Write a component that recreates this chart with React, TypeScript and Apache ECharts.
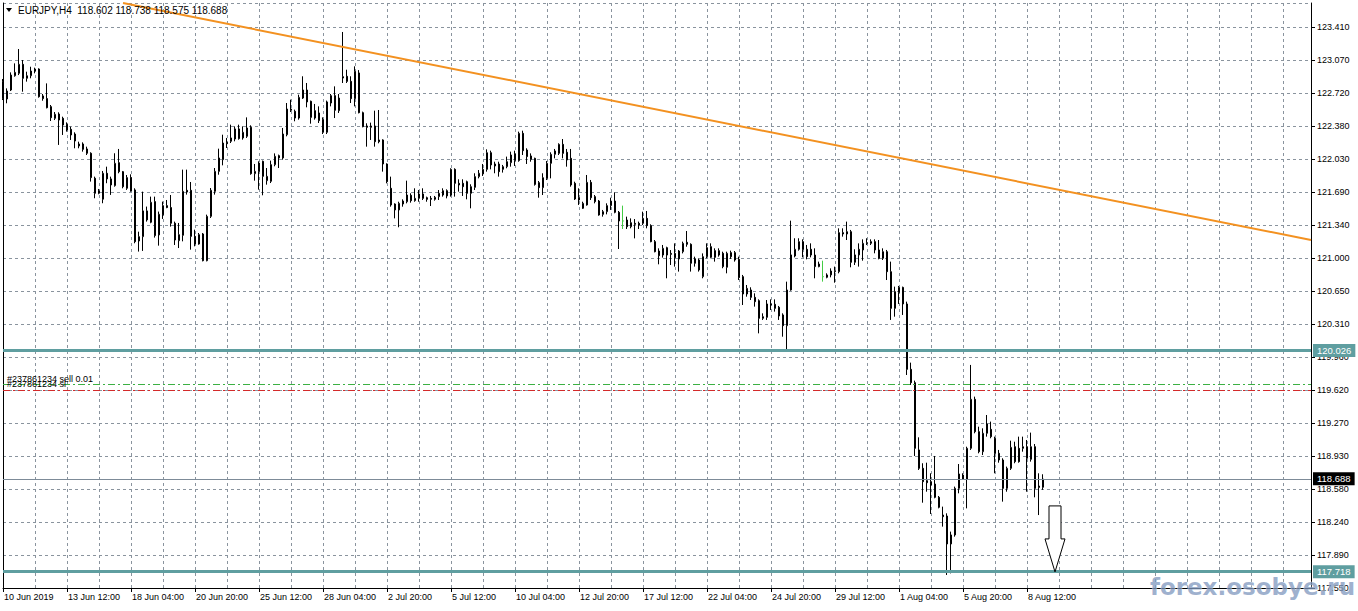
import React, { useEffect, useRef } from "react";
import * as echarts from "echarts";

const SYMBOL = "EURJPY,H4";
const HEADER_OHLC = [118.602, 118.738, 118.575, 118.688];
const ORDER_ID = "#237861234";

const TICK_LABELS = [
  "10 Jun 2019", "13 Jun 12:00", "18 Jun 04:00", "20 Jun 20:00", "25 Jun 12:00",
  "28 Jun 04:00", "2 Jul 20:00", "5 Jul 12:00", "10 Jul 04:00", "12 Jul 20:00",
  "17 Jul 12:00", "22 Jul 04:00", "24 Jul 20:00", "29 Jul 12:00", "1 Aug 04:00",
  "5 Aug 20:00", "8 Aug 12:00",
];
const BARS_PER_LABEL = 16;
const BARS_PER_GRID = 8;
const TOTAL_SLOTS = 328;

// [open, high, low, close]
const CANDLES: number[][] = [
  [122.839, 122.867, 122.647, 122.665], [122.658, 122.769, 122.613, 122.741], [122.752, 122.936, 122.741, 122.908], [122.901, 123.030, 122.891, 122.936],
  [122.926, 123.180, 122.908, 123.020], [123.020, 123.065, 122.734, 122.874], [122.874, 122.943, 122.839, 122.901], [122.901, 122.995, 122.874, 122.950],
  [122.950, 122.985, 122.926, 122.971], [122.971, 122.978, 122.672, 122.682], [122.690, 122.710, 122.640, 122.662], [122.662, 122.821, 122.560, 122.567],
  [122.578, 122.595, 122.428, 122.463], [122.456, 122.522, 122.438, 122.498], [122.501, 122.519, 122.178, 122.438], [122.456, 122.473, 122.282, 122.386],
  [122.393, 122.414, 122.317, 122.334], [122.341, 122.369, 122.230, 122.282], [122.292, 122.310, 122.143, 122.219], [122.167, 122.212, 122.143, 122.188],
  [122.188, 122.205, 122.108, 122.132], [122.136, 122.160, 122.073, 122.091], [122.091, 122.101, 121.795, 121.837], [121.830, 121.847, 121.621, 121.673],
  [121.673, 121.718, 121.663, 121.698], [121.611, 121.906, 121.569, 121.882], [121.882, 121.951, 121.778, 121.823], [121.823, 121.847, 121.656, 121.760],
  [121.753, 122.091, 121.742, 121.986], [121.993, 122.136, 121.882, 121.899], [121.899, 121.906, 121.725, 121.742], [121.725, 121.864, 121.708, 121.837],
  [121.837, 121.871, 121.690, 121.697], [121.708, 121.725, 121.151, 121.168], [121.175, 121.272, 121.064, 121.220], [121.220, 121.690, 121.071, 121.489],
  [121.489, 121.534, 121.377, 121.395], [121.370, 121.638, 121.360, 121.579], [121.586, 121.638, 121.210, 121.231], [121.238, 121.482, 121.126, 121.454],
  [121.447, 121.586, 121.405, 121.544], [121.544, 121.603, 121.517, 121.524], [121.524, 121.655, 121.325, 121.360], [121.360, 121.377, 121.133, 121.185],
  [121.178, 121.363, 121.101, 121.241], [121.234, 121.920, 121.171, 121.693], [121.704, 121.920, 121.659, 121.686], [121.704, 121.791, 121.084, 121.223],
  [121.223, 121.293, 121.119, 121.143], [121.143, 121.258, 121.136, 121.241], [121.248, 121.258, 120.962, 120.969], [120.969, 121.450, 120.962, 121.432],
  [121.432, 121.728, 121.415, 121.704], [121.693, 121.937, 121.659, 121.902], [121.902, 122.139, 121.867, 122.042], [122.024, 122.285, 121.965, 122.198],
  [122.205, 122.251, 122.146, 122.191], [122.216, 122.390, 122.198, 122.251], [122.240, 122.372, 122.216, 122.345], [122.345, 122.390, 122.233, 122.244],
  [122.251, 122.372, 122.233, 122.310], [122.268, 122.466, 122.251, 122.355], [122.362, 122.383, 121.867, 121.878], [121.878, 121.979, 121.805, 121.902],
  [121.989, 122.007, 121.711, 121.902], [122.007, 122.014, 121.652, 121.850], [121.805, 121.937, 121.763, 121.850], [121.798, 122.014, 121.780, 121.972],
  [121.972, 122.090, 121.955, 122.059], [122.066, 122.077, 121.937, 122.042], [122.042, 122.355, 122.024, 122.292], [122.285, 122.616, 122.268, 122.553],
  [122.553, 122.651, 122.522, 122.540], [122.529, 122.547, 122.425, 122.459], [122.459, 122.703, 122.442, 122.675], [122.668, 122.895, 122.658, 122.752],
  [122.752, 122.825, 122.571, 122.627], [122.634, 122.641, 122.400, 122.466], [122.536, 122.606, 122.442, 122.459], [122.512, 122.581, 122.407, 122.432],
  [122.442, 122.466, 122.292, 122.310], [122.310, 122.641, 122.292, 122.627], [122.616, 122.710, 122.581, 122.693], [122.693, 122.790, 122.459, 122.540],
  [122.536, 122.710, 122.512, 122.668], [122.891, 123.358, 122.825, 122.877], [122.895, 122.964, 122.825, 122.842], [122.842, 122.895, 122.616, 122.661],
  [122.661, 122.999, 122.581, 122.947], [122.930, 122.960, 122.508, 122.515], [122.515, 122.526, 122.362, 122.369], [122.376, 122.404, 122.160, 122.362],
  [122.362, 122.411, 122.230, 122.376], [122.376, 122.536, 122.160, 122.212], [122.230, 122.543, 122.195, 122.212], [122.230, 122.237, 121.899, 121.979],
  [121.979, 121.986, 121.777, 121.794], [121.725, 121.847, 121.533, 121.551], [121.561, 121.568, 121.411, 121.499], [121.499, 121.585, 121.318, 121.568],
  [121.561, 121.610, 121.533, 121.592], [121.585, 121.805, 121.568, 121.655], [121.652, 121.673, 121.575, 121.596], [121.596, 121.725, 121.585, 121.620],
  [121.620, 121.707, 121.585, 121.666], [121.666, 121.725, 121.603, 121.620], [121.627, 121.638, 121.585, 121.610], [121.620, 121.645, 121.540, 121.610],
  [121.610, 121.645, 121.596, 121.631], [121.638, 121.707, 121.603, 121.673], [121.655, 121.725, 121.638, 121.700], [121.700, 121.714, 121.620, 121.645],
  [121.655, 121.934, 121.638, 121.923], [121.923, 121.934, 121.638, 121.777], [121.777, 121.819, 121.690, 121.760], [121.777, 121.819, 121.645, 121.742],
  [121.794, 121.805, 121.610, 121.673], [121.673, 121.767, 121.516, 121.742], [121.735, 121.882, 121.707, 121.847], [121.847, 121.916, 121.829, 121.882],
  [121.875, 121.979, 121.854, 121.923], [121.923, 122.132, 121.899, 122.097], [122.097, 122.118, 121.923, 121.969], [121.979, 122.003, 121.882, 121.958],
  [121.979, 122.003, 121.847, 121.899], [121.923, 121.969, 121.889, 121.951], [121.951, 122.056, 121.934, 122.003], [121.993, 122.108, 121.951, 122.073],
  [122.014, 122.118, 121.958, 122.084], [122.014, 122.317, 122.003, 122.299], [122.299, 122.327, 122.073, 122.118], [122.125, 122.143, 121.979, 122.056],
  [122.063, 122.090, 122.003, 122.028], [122.038, 122.045, 121.753, 121.766], [121.784, 121.801, 121.627, 121.732], [121.732, 121.882, 121.655, 121.836],
  [121.829, 122.010, 121.812, 121.986], [121.986, 122.101, 121.829, 122.080], [122.080, 122.136, 122.038, 122.115], [122.090, 122.195, 122.073, 122.184],
  [122.184, 122.240, 122.038, 122.090], [122.101, 122.136, 121.951, 122.021], [122.038, 122.136, 121.742, 121.760], [121.777, 121.794, 121.603, 121.613],
  [121.627, 121.725, 121.551, 121.603], [121.516, 121.585, 121.509, 121.568], [121.551, 121.864, 121.544, 121.787], [121.787, 121.812, 121.603, 121.627],
  [121.638, 121.655, 121.568, 121.586], [121.592, 121.603, 121.439, 121.446], [121.453, 121.499, 121.429, 121.481], [121.481, 121.568, 121.453, 121.544],
  [121.544, 121.627, 121.499, 121.592], [121.592, 121.683, 121.464, 121.474], [121.474, 121.488, 121.091, 121.384], [121.384, 121.544, 121.300, 121.384],
  [121.394, 121.429, 121.300, 121.324], [121.324, 121.411, 121.307, 121.366], [121.359, 121.404, 121.202, 121.349], [121.359, 121.377, 121.300, 121.342],
  [121.359, 121.481, 121.342, 121.411], [121.411, 121.488, 121.307, 121.335], [121.335, 121.349, 121.161, 121.168], [121.168, 121.185, 121.056, 121.063],
  [121.070, 121.098, 120.931, 121.021], [121.028, 121.133, 121.001, 121.098], [121.105, 121.115, 120.785, 121.028], [121.045, 121.080, 120.924, 121.035],
  [121.045, 121.150, 120.907, 121.001], [120.987, 121.080, 120.855, 121.070], [121.063, 121.168, 121.045, 121.150], [121.161, 121.279, 121.115, 121.140],
  [121.140, 121.150, 120.855, 120.942], [120.987, 121.011, 120.907, 120.942], [120.976, 120.993, 120.855, 120.872], [120.802, 121.045, 120.785, 121.011],
  [121.011, 121.150, 120.994, 121.105], [121.004, 121.150, 120.994, 121.116], [121.074, 121.098, 120.959, 121.004], [121.028, 121.098, 121.011, 121.074],
  [121.046, 121.063, 120.890, 120.907], [120.900, 121.063, 120.837, 121.046], [121.053, 121.074, 120.987, 121.011], [121.053, 121.070, 120.959, 120.976],
  [120.983, 121.011, 120.767, 120.792], [120.802, 120.820, 120.506, 120.621], [120.621, 120.715, 120.593, 120.680], [120.663, 120.691, 120.558, 120.586],
  [120.586, 120.628, 120.489, 120.541], [120.551, 120.565, 120.210, 120.367], [120.367, 120.419, 120.350, 120.384], [120.377, 120.558, 120.350, 120.517],
  [120.517, 120.565, 120.454, 120.506], [120.513, 120.565, 120.437, 120.471], [120.482, 120.496, 120.350, 120.391], [120.402, 120.419, 120.175, 120.290],
  [120.290, 120.750, 120.043, 120.663], [120.663, 121.387, 120.656, 121.029], [121.018, 121.203, 121.004, 121.088], [121.088, 121.203, 121.074, 121.168],
  [121.168, 121.192, 121.004, 121.088], [121.088, 121.133, 120.983, 121.011], [121.088, 121.150, 121.004, 121.028], [121.028, 121.098, 120.785, 120.907],
  [120.907, 120.959, 120.900, 120.934], [120.802, 120.969, 120.750, 120.802], [120.795, 120.837, 120.785, 120.820], [120.820, 120.889, 120.795, 120.861],
  [120.854, 120.907, 120.739, 120.865], [120.854, 121.307, 120.837, 121.262], [121.262, 121.307, 121.220, 121.248], [121.248, 121.377, 121.185, 121.272],
  [121.272, 121.290, 120.900, 120.952], [120.952, 121.088, 120.924, 121.029], [121.029, 121.150, 120.907, 121.088], [121.081, 121.192, 120.969, 121.150],
  [121.157, 121.203, 121.133, 121.150], [121.150, 121.192, 121.133, 121.168], [121.168, 121.192, 121.046, 121.081], [121.081, 121.185, 120.983, 120.994],
  [120.994, 121.098, 120.976, 121.063], [121.063, 121.081, 120.767, 120.854], [120.854, 120.959, 120.350, 120.471], [120.471, 120.698, 120.384, 120.646],
  [120.635, 120.705, 120.517, 120.690], [120.690, 120.698, 120.402, 120.517], [120.517, 120.541, 119.775, 119.834], [119.834, 119.904, 119.671, 119.695],
  [119.695, 119.716, 118.929, 119.009], [118.992, 119.124, 118.783, 118.800], [118.800, 118.853, 118.441, 118.661], [118.671, 118.859, 118.556, 118.650],
  [118.661, 118.748, 118.323, 118.626], [118.636, 118.929, 118.487, 118.497], [118.497, 118.511, 118.382, 118.393], [118.312, 118.400, 118.191, 118.295],
  [118.302, 118.330, 117.686, 118.010], [118.010, 118.139, 117.703, 118.104], [118.104, 118.609, 118.086, 118.591], [118.591, 118.845, 118.539, 118.741],
  [118.730, 118.748, 118.678, 118.685], [118.685, 119.026, 118.382, 119.009], [119.009, 119.880, 118.992, 119.521], [119.521, 119.549, 119.166, 119.183],
  [119.183, 119.235, 118.957, 118.974], [118.974, 119.218, 118.939, 119.166], [119.166, 119.357, 119.131, 119.263], [119.207, 119.288, 119.114, 119.131],
  [119.113, 119.131, 118.748, 118.957], [118.957, 118.992, 118.859, 118.887], [118.887, 118.905, 118.452, 118.591], [118.591, 118.818, 118.556, 118.800],
  [118.800, 119.089, 118.783, 119.019], [119.026, 119.078, 118.853, 118.870], [119.009, 119.131, 118.859, 118.870], [119.009, 119.131, 118.974, 119.026],
  [119.026, 119.096, 118.556, 118.905], [118.894, 119.173, 118.870, 119.026], [119.026, 119.054, 118.497, 118.591], [118.615, 118.748, 118.312, 118.601],
  [118.602, 118.738, 118.575, 118.688],
];

// price axis
const AXIS_BASE = 117.55;
const AXIS_STEP = 0.3447;
const AXIS_TOP = 123.6606;

// levels
const RESISTANCE = 120.026;
const TAKE_PROFIT = 117.718;
const BID = 118.688;
const ORDER_OPEN = 119.678;
const STOP_LOSS = 119.62;
const TREND_START = [30, 123.66];
const TREND_END = [327, 121.185];
const ARROW_BAR = 263;

const FONT = "'Liberation Sans', Arial, sans-serif";
const GRID_COLOR = "#8a949e";
const TEAL = "#5f9ea0";
const DOJI = "#44cc44";

export default function App() {
  const ref = useRef<HTMLDivElement>(null);

  useEffect(() => {
    document.body.style.margin = "0";
    const chart = echarts.init(ref.current!, null, { renderer: "svg" });
    const B = AXIS_BASE;

    const seriesData = CANDLES.map(([o, h, l, c]) => {
      const v = [o - B, c - B, l - B, h - B];
      if (o === c) {
        return {
          value: v,
          itemStyle: { color: DOJI, color0: DOJI, borderColor: DOJI, borderColor0: DOJI, borderColorDoji: DOJI },
        };
      }
      return v;
    });

    const smallLabel = { fontSize: 9, fontFamily: FONT, color: "#000" };
    const tagLabel = (text: string, bg: string) => ({
      show: true,
      position: "end",
      formatter: text,
      backgroundColor: bg,
      color: "#fff",
      fontSize: 9.5,
      fontFamily: FONT,
      padding: [2, 4, 1, 4],
      distance: 2,
    });

    const option: any = {
      animation: false,
      grid: { left: 3, top: 3, width: 1308, height: 585, containLabel: false, outerBoundsMode: "none" },
      xAxis: [
        {
          type: "category",
          data: Array.from({ length: TOTAL_SLOTS }, (_, i) => String(i)),
          boundaryGap: false,
          axisLine: { show: true, lineStyle: { color: "#000", width: 1 } },
          axisTick: {
            show: true,
            interval: (i: number) => i % BARS_PER_LABEL === 0 && i / BARS_PER_LABEL < TICK_LABELS.length,
            length: 4,
            lineStyle: { color: "#000" },
          },
          axisLabel: {
            interval: (i: number) => i % BARS_PER_LABEL === 0 && i / BARS_PER_LABEL < TICK_LABELS.length,
            formatter: (_v: string, i: number) => TICK_LABELS[i / BARS_PER_LABEL] ?? "",
            align: "left",
            margin: 4,
            fontSize: 9,
            fontFamily: FONT,
            color: "#000",
            padding: [0, 0, 0, 1],
          },
          splitLine: {
            show: true,
            interval: (i: number) => i % BARS_PER_GRID === 0 && i > 0,
            lineStyle: { color: GRID_COLOR, type: [3, 3], width: 1 },
          },
        },
      ],
      yAxis: [
        {
          type: "value",
          position: "right",
          min: 0,
          max: AXIS_TOP - B,
          interval: AXIS_STEP,
          axisLine: { show: true, lineStyle: { color: "#000", width: 1 } },
          axisTick: { show: true, length: 4, lineStyle: { color: "#000" } },
          axisLabel: {
            showMaxLabel: false,
            margin: 6,
            fontSize: 9,
            fontFamily: FONT,
            color: "#000",
            formatter: (v: number) => (Math.round((v + B) * 100) / 100).toFixed(2) + "0",
          },
          splitLine: { show: true, lineStyle: { color: GRID_COLOR, type: [3, 3], width: 1 } },
        },
        {
          type: "value",
          position: "left",
          min: 0,
          max: AXIS_TOP - B,
          axisLine: { show: true, lineStyle: { color: "#000", width: 1 } },
          axisTick: { show: false },
          axisLabel: { show: false },
          splitLine: { show: false },
        },
      ],
      series: [
        {
          type: "candlestick",
          data: seriesData,
          barWidth: 2,
          clip: true,
          itemStyle: {
            color: "#ffffff",
            color0: "#000000",
            borderColor: "#000000",
            borderColor0: "#000000",
            borderColorDoji: DOJI,
            borderWidth: 1,
          },
          markLine: {
            silent: true,
            symbol: ["none", "none"],
            animation: false,
            data: [
              [
                {
                  coord: [TREND_START[0], TREND_START[1] - B],
                  lineStyle: { color: "#f39120", width: 2, type: "solid" },
                  label: { show: false },
                },
                { coord: [TREND_END[0], TREND_END[1] - B] },
              ],
              {
                yAxis: ORDER_OPEN - B,
                lineStyle: { color: "#3cb043", width: 1, type: [7, 3, 2, 3] },
                label: { show: true, position: "insideStartTop", formatter: `${ORDER_ID} sell 0.01`, distance: [4, 1], ...smallLabel },
              },
              {
                yAxis: STOP_LOSS - B,
                lineStyle: { color: "#d42a2a", width: 1, type: [7, 3, 2, 3] },
                label: { show: true, position: "insideStartTop", formatter: `${ORDER_ID} sl`, distance: [4, 1], ...smallLabel },
              },
              {
                yAxis: BID - B,
                lineStyle: { color: "#7d8b98", width: 1, type: "solid" },
                label: tagLabel(BID.toFixed(3), "#000000"),
              },
              {
                yAxis: RESISTANCE - B,
                lineStyle: { color: TEAL, width: 3, type: "solid" },
                label: tagLabel(RESISTANCE.toFixed(3), TEAL),
              },
              {
                yAxis: TAKE_PROFIT - B,
                lineStyle: { color: TEAL, width: 3, type: "solid" },
                label: tagLabel(TAKE_PROFIT.toFixed(3), TEAL),
              },
              {
                yAxis: TAKE_PROFIT - B,
                lineStyle: { opacity: 0 },
                label: { show: true, position: "insideStartTop", formatter: `${ORDER_ID} tp`, distance: [4, 3], ...smallLabel },
              },
            ],
          },
        },
      ],
    };

    chart.setOption(option);

    const tip = chart.convertToPixel({ gridIndex: 0 }, [ARROW_BAR, TAKE_PROFIT - B]) as number[];
    const tx = tip[0];
    const ty = tip[1];

    chart.setOption({
      graphic: [
        {
          type: "polygon",
          shape: { points: [[6, 8], [12, 8], [9, 12]] },
          style: { fill: "#000" },
          z: 100,
        },
        {
          type: "text",
          x: 18,
          y: 10.5,
          style: {
            text: `${SYMBOL}  ${HEADER_OHLC.map((v) => v.toFixed(3)).join(" ")}`,
            fontSize: 10,
            fontFamily: FONT,
            fill: "#000",
            verticalAlign: "middle",
          },
          z: 100,
        },
        {
          type: "polygon",
          shape: {
            points: [
              [tx - 6, ty - 66],
              [tx + 6, ty - 66],
              [tx + 6, ty - 33],
              [tx + 10, ty - 33],
              [tx, ty],
              [tx - 10, ty - 33],
              [tx - 6, ty - 33],
            ],
          },
          style: { fill: "#ffffff", stroke: "#000", lineWidth: 1 },
          z: 100,
        },
        {
          type: "text",
          x: 1355,
          y: 587,
          style: {
            text: "forex.osobye.ru",
            fontSize: 23,
            fontWeight: "bold",
            fontFamily: "'DejaVu Sans', Verdana, sans-serif",
            fill: "rgba(128,152,190,0.75)",
            stroke: "rgba(255,255,255,0.5)",
            lineWidth: 1,
            align: "right",
            verticalAlign: "middle",
          },
          z: 200,
        },
      ],
    });

    return () => chart.dispose();
  }, []);

  return <div ref={ref} style={{ width: 1358, height: 611 }} />;
}
